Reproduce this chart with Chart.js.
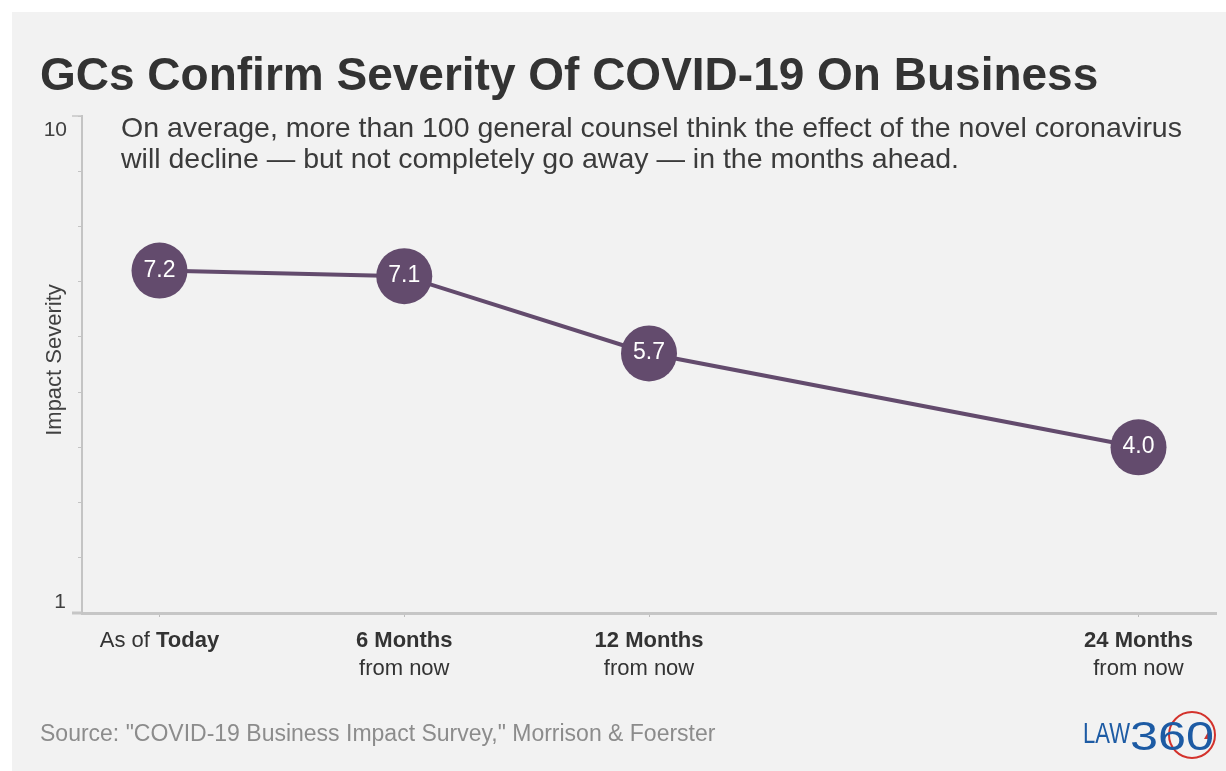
<!DOCTYPE html>
<html>
<head>
<meta charset="utf-8">
<script src="https://cdn.jsdelivr.net/npm/chart.js@4.4.1/dist/chart.umd.min.js"></script>
<style>
  html, body { margin:0; padding:0; background:#ffffff; overflow:hidden; }
  body { width:1226px; height:771px; position:relative; font-family:"Liberation Sans", Arial, sans-serif; }
  #panel { position:absolute; left:12px; top:12px; right:0; bottom:0; background:#f2f2f2; }
  #c { position:absolute; left:0; top:0; }
  #title { position:absolute; left:40px; top:51px; font-weight:bold; font-size:46px; line-height:46px; color:#333333; white-space:nowrap; }
  #sub { position:absolute; left:121px; top:112px; font-size:28.5px; line-height:31px; color:#3b3b3b; white-space:nowrap; }
  #src { position:absolute; left:40px; top:722px; font-size:23px; line-height:23px; color:#8c8c8c; white-space:nowrap; }
  #logo { position:absolute; left:1080px; top:708px; }
</style>
</head>
<body>
<div id="panel"></div>
<canvas id="c" width="1226" height="771"></canvas>
<div id="title">GCs Confirm Severity Of COVID-19 On Business</div>
<div id="sub">On average, more than 100 general counsel think the effect of the novel coronavirus<br>will decline — but not completely go away — in the months ahead.</div>
<div id="src">Source: "COVID-19 Business Impact Survey," Morrison &amp; Foerster</div>
<svg id="logo" width="146" height="56" viewBox="0 0 146 56">
  <circle cx="112" cy="27" r="23" fill="none" stroke="#d3322c" stroke-width="2"/>
  <polygon points="124,31 128,24 132,31" fill="#d3322c"/>
  <text y="35" font-family="Liberation Sans, Arial, sans-serif" fill="#1d5ba4"><tspan x="3" font-size="29" textLength="47" lengthAdjust="spacingAndGlyphs">LAW</tspan><tspan x="50" y="42" font-size="40" textLength="84" lengthAdjust="spacingAndGlyphs">360</tspan></text>
</svg>
<script>
// ---- data ----
const categoryBold = ['Today', '6 Months', '12 Months', '24 Months'];
const categoryPrefix = ['As of ', '', '', ''];
const categorySecond = ['', 'from now', 'from now', 'from now'];
const monthsAhead = [0, 6, 12, 24];
const severity = [7.2, 7.1, 5.7, 4.0];
const yTickLabels = ['1', '10'];
const yAxisTitle = 'Impact Severity';

const PURPLE = '#634b6d';
const FONT = '"Liberation Sans", Arial, sans-serif';
const TEXT = '#404040';

const points = monthsAhead.map((m, i) => ({ x: m, y: severity[i] }));

const annotate = {
  id: 'annotate',
  afterDraw(chart) {
    const ctx = chart.ctx;
    const xs = chart.scales.x, ys = chart.scales.y;
    const left = chart.chartArea.left;
    ctx.save();
    // axis extensions / major ticks
    ctx.strokeStyle = '#c6c6c6';
    ctx.lineWidth = 3;
    ctx.beginPath();
    ctx.moveTo(72, ys.getPixelForValue(1));
    ctx.lineTo(left, ys.getPixelForValue(1));
    ctx.stroke();
    ctx.lineWidth = 1.5;
    ctx.beginPath();
    ctx.moveTo(72, ys.getPixelForValue(10));
    ctx.lineTo(left, ys.getPixelForValue(10));
    ctx.stroke();

    // y tick labels (only 1 and 10)
    ctx.fillStyle = TEXT;
    ctx.font = '21px ' + FONT;
    ctx.textAlign = 'right';
    ctx.textBaseline = 'alphabetic';
    ctx.fillText(yTickLabels[1], 67, ys.getPixelForValue(10) + 20);
    ctx.fillText(yTickLabels[0], 66, ys.getPixelForValue(1) - 5);

    // y axis title
    ctx.save();
    ctx.translate(55, 360);
    ctx.rotate(-Math.PI / 2);
    ctx.textAlign = 'center';
    ctx.textBaseline = 'middle';
    ctx.font = '22px ' + FONT;
    ctx.fillText(yAxisTitle, 0, 0);
    ctx.restore();

    // x category labels
    const base = chart.chartArea.bottom;
    monthsAhead.forEach((m, i) => {
      const cx = xs.getPixelForValue(m);
      ctx.textBaseline = 'alphabetic';
      ctx.textAlign = 'left';
      ctx.font = '22px ' + FONT;
      const pw = ctx.measureText(categoryPrefix[i]).width;
      ctx.font = 'bold 22px ' + FONT;
      const bw = ctx.measureText(categoryBold[i]).width;
      let sx = cx - (pw + bw) / 2;
      ctx.fillStyle = '#333333';
      if (categoryPrefix[i]) {
        ctx.font = '22px ' + FONT;
        ctx.fillText(categoryPrefix[i], sx, base + 34);
      }
      ctx.font = 'bold 22px ' + FONT;
      ctx.fillText(categoryBold[i], sx + pw, base + 34);
      if (categorySecond[i]) {
        ctx.font = '22px ' + FONT;
        ctx.textAlign = 'center';
        ctx.fillText(categorySecond[i], cx, base + 62);
      }
    });

    // value labels inside markers
    const meta = chart.getDatasetMeta(0);
    ctx.fillStyle = '#ffffff';
    ctx.font = '23px ' + FONT;
    ctx.textAlign = 'center';
    ctx.textBaseline = 'alphabetic';
    meta.data.forEach((pt, i) => {
      ctx.fillText(severity[i].toFixed(1), pt.x, pt.y + 6);
    });
    ctx.restore();
  }
};

new Chart(document.getElementById('c'), {
  type: 'line',
  data: {
    datasets: [{
      data: points,
      borderColor: PURPLE,
      borderWidth: 4,
      pointRadius: 28,
      pointHoverRadius: 28,
      pointBackgroundColor: PURPLE,
      pointBorderWidth: 0,
      tension: 0,
      clip: false
    }]
  },
  options: {
    responsive: false,
    animation: false,
    events: [],
    layout: { autoPadding: false, padding: { left: 12, top: 116, right: 10, bottom: 0 } },
    plugins: { legend: { display: false }, tooltip: { enabled: false }, title: { display: false } },
    scales: {
      x: {
        type: 'linear',
        min: -1.9,
        max: 25.9,
        afterBuildTicks: s => { s.ticks = monthsAhead.map(v => ({ value: v })); },
        ticks: { display: false },
        grid: { drawOnChartArea: false, drawTicks: true, tickLength: 4, color: '#bdbdbd', lineWidth: 1 },
        border: { color: '#c6c6c6', width: 3 },
        afterFit: s => { s.height = 158; }
      },
      y: {
        type: 'linear',
        min: 1,
        max: 10,
        ticks: { stepSize: 1, display: false },
        grid: { drawOnChartArea: false, drawTicks: true, tickLength: 4, color: '#c4c4c4', lineWidth: 1 },
        border: { color: '#c4c4c4', width: 2 },
        afterFit: s => { s.width = 70; }
      }
    }
  },
  plugins: [annotate]
});
</script>
</body>
</html>
